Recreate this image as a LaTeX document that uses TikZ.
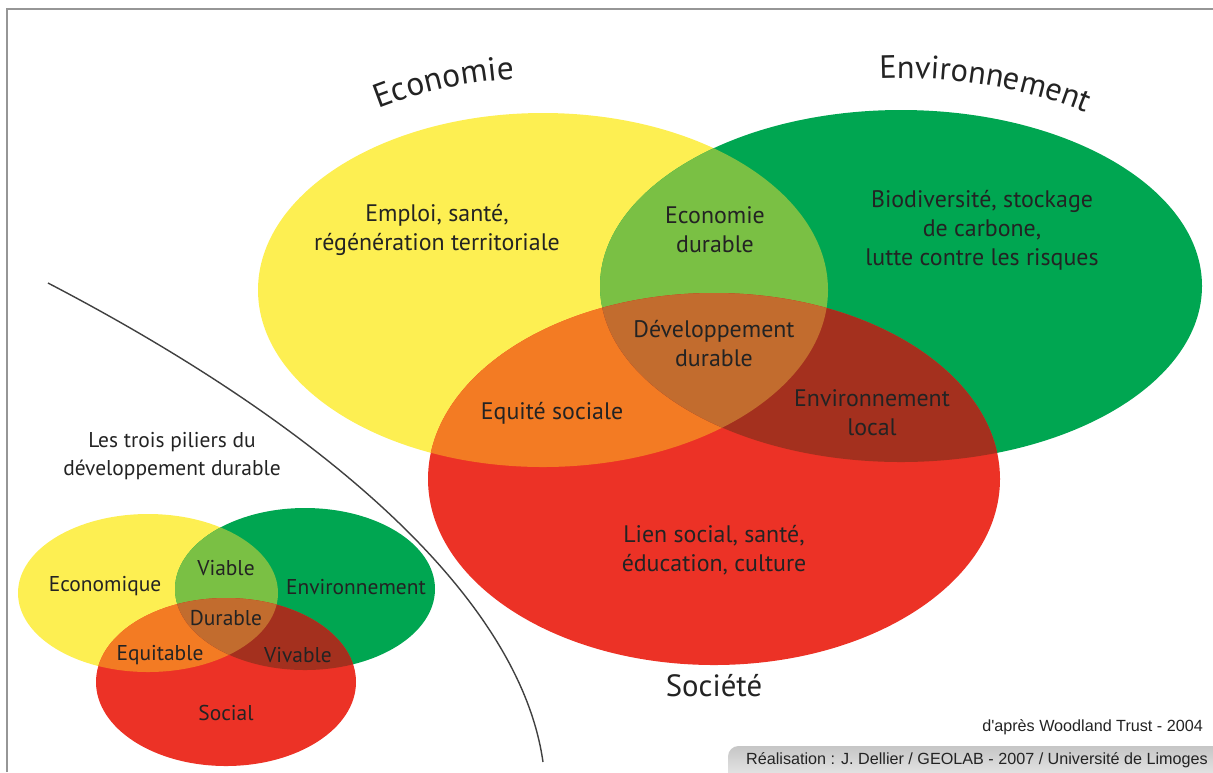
\documentclass[tikz,border=0pt]{standalone}
\usepackage{fontspec}
\setmainfont{PT Sans}
\newfontfamily\creditfont{Liberation Sans}
\usetikzlibrary{decorations.text}

\definecolor{ecoyellow}{RGB}{253,239,82}
\definecolor{envgreen}{RGB}{0,166,81}
\definecolor{socred}{RGB}{236,50,38}
\definecolor{ecoenv}{RGB}{122,192,68}
\definecolor{ecosoc}{RGB}{243,123,35}
\definecolor{envsoc}{RGB}{164,48,30}
\definecolor{allthree}{RGB}{194,108,46}
\definecolor{txtgray}{RGB}{35,35,35}
\definecolor{framegray}{RGB}{150,150,150}

% ellipse paths (pixel units)
\newcommand{\EcoBig}{(543,290) ellipse [x radius=285, y radius=177]}
\newcommand{\EnvBig}{(901,286) ellipse [x radius=301, y radius=176]}
\newcommand{\SocBig}{(714,479) ellipse [x radius=286, y radius=186]}
\newcommand{\EcoSmall}{(148,593) ellipse [x radius=130, y radius=79]}
\newcommand{\EnvSmall}{(305,589) ellipse [x radius=130, y radius=81]}
\newcommand{\SocSmall}{(226,682) ellipse [x radius=130, y radius=84]}

\begin{document}
\begin{tikzpicture}[
  x=0.02cm, y=-0.02cm,
  big/.style={font=\fontsize{13.6}{16.5}\selectfont, align=center, text=txtgray},
  small/.style={font=\fontsize{12.2}{15.5}\selectfont, align=center, text=txtgray},
  credit/.style={font=\creditfont\fontsize{9.2}{11}\selectfont, text=txtgray},
  sepline/.style={draw=black!75, line width=0.8pt}
]
\useasboundingbox (0,0) rectangle (1213,772);

% Frame
\draw[framegray, line width=0.8pt] (7,772) -- (7,9) -- (1213,9);

% Big diagram: plain fills
\fill[ecoyellow] \EcoBig;
\fill[envgreen] \EnvBig;
\fill[socred] \SocBig;

% Big diagram: overlaps
\begin{scope}
  \clip \EcoBig;
  \fill[ecoenv] \EnvBig;
  \fill[ecosoc] \SocBig;
\end{scope}
\begin{scope}
  \clip \EnvBig;
  \fill[envsoc] \SocBig;
\end{scope}
\begin{scope}
  \clip \EcoBig;
  \clip \EnvBig;
  \fill[allthree] \SocBig;
\end{scope}

% Curved titles
\path[decorate, decoration={text along path, text align=left,
  text={|\fontsize{19}{22}\selectfont\color{txtgray}|Economie}}]
  (378.2,108.3) arc[start angle=239, end angle=300, x radius=320, y radius=212];
\path[decorate, decoration={text along path, text align=left,
  text={|\fontsize{18.4}{22}\selectfont\color{txtgray}|Environnement}}]
  (879.6,78.5) arc[start angle=266.4, end angle=345, x radius=335, y radius=208];

% Big diagram: labels
\node[big] (emploi) at (437,230) {Emploi, santé,\\régénération territoriale};
\node[big] (ecodur) at (715,230) {Economie\\durable};
\node[big] (biodiv) at (982,230) {Biodiversité, stockage\\de carbone,\\lutte contre les risques};
\node[big] (devdur) at (714,344) {Développement\\durable};
\node[big] (equite) at (552,413) {Equité sociale};
\node[big] (envloc) at (872,413) {Environnement\\local};
\node[big] (lien) at (714,550) {Lien social, santé,\\éducation, culture};
\node[font=\fontsize{17.5}{20}\selectfont, text=txtgray] (societe) at (714,686) {Société};

% Separating curve
\coordinate (sepA) at (48,283);
\coordinate (sepB) at (543,762);
\draw[sepline] (sepA) .. controls (330,430) and (520,600) .. (sepB);

% Small diagram: plain fills
\fill[ecoyellow] \EcoSmall;
\fill[envgreen] \EnvSmall;
\fill[socred] \SocSmall;

% Small diagram: overlaps
\begin{scope}
  \clip \EcoSmall;
  \fill[ecoenv] \EnvSmall;
  \fill[ecosoc] \SocSmall;
\end{scope}
\begin{scope}
  \clip \EnvSmall;
  \fill[envsoc] \SocSmall;
\end{scope}
\begin{scope}
  \clip \EcoSmall;
  \clip \EnvSmall;
  \fill[allthree] \SocSmall;
\end{scope}

% Small diagram: labels
\node[small] (piliers) at (172,456) {Les trois piliers du\\développement durable};
\node[small] (econo) at (105,586) {Economique};
\node[small] (viable) at (226,568) {Viable};
\node[small] (enviro) at (356,587) {Environnement};
\node[small] (durable) at (226,618) {Durable};
\node[small] (equit) at (160,655) {Equitable};
\node[small] (vivable) at (298,655) {Vivable};
\node[small] (social) at (226,713) {Social};

% Credits
\node[credit, anchor=east] (source) at (1209,727) {d'après Woodland Trust - 2004};
\shade[top color=gray!45, bottom color=gray!8, rounded corners=6pt]
  (728,790) -- (728,746) -- (1240,746) -- (1240,790) -- cycle;
\node[credit, anchor=west] (realis) at (740,760) {Réalisation : J. Dellier / GEOLAB - 2007 / Université de Limoges};

\end{tikzpicture}
\end{document}
